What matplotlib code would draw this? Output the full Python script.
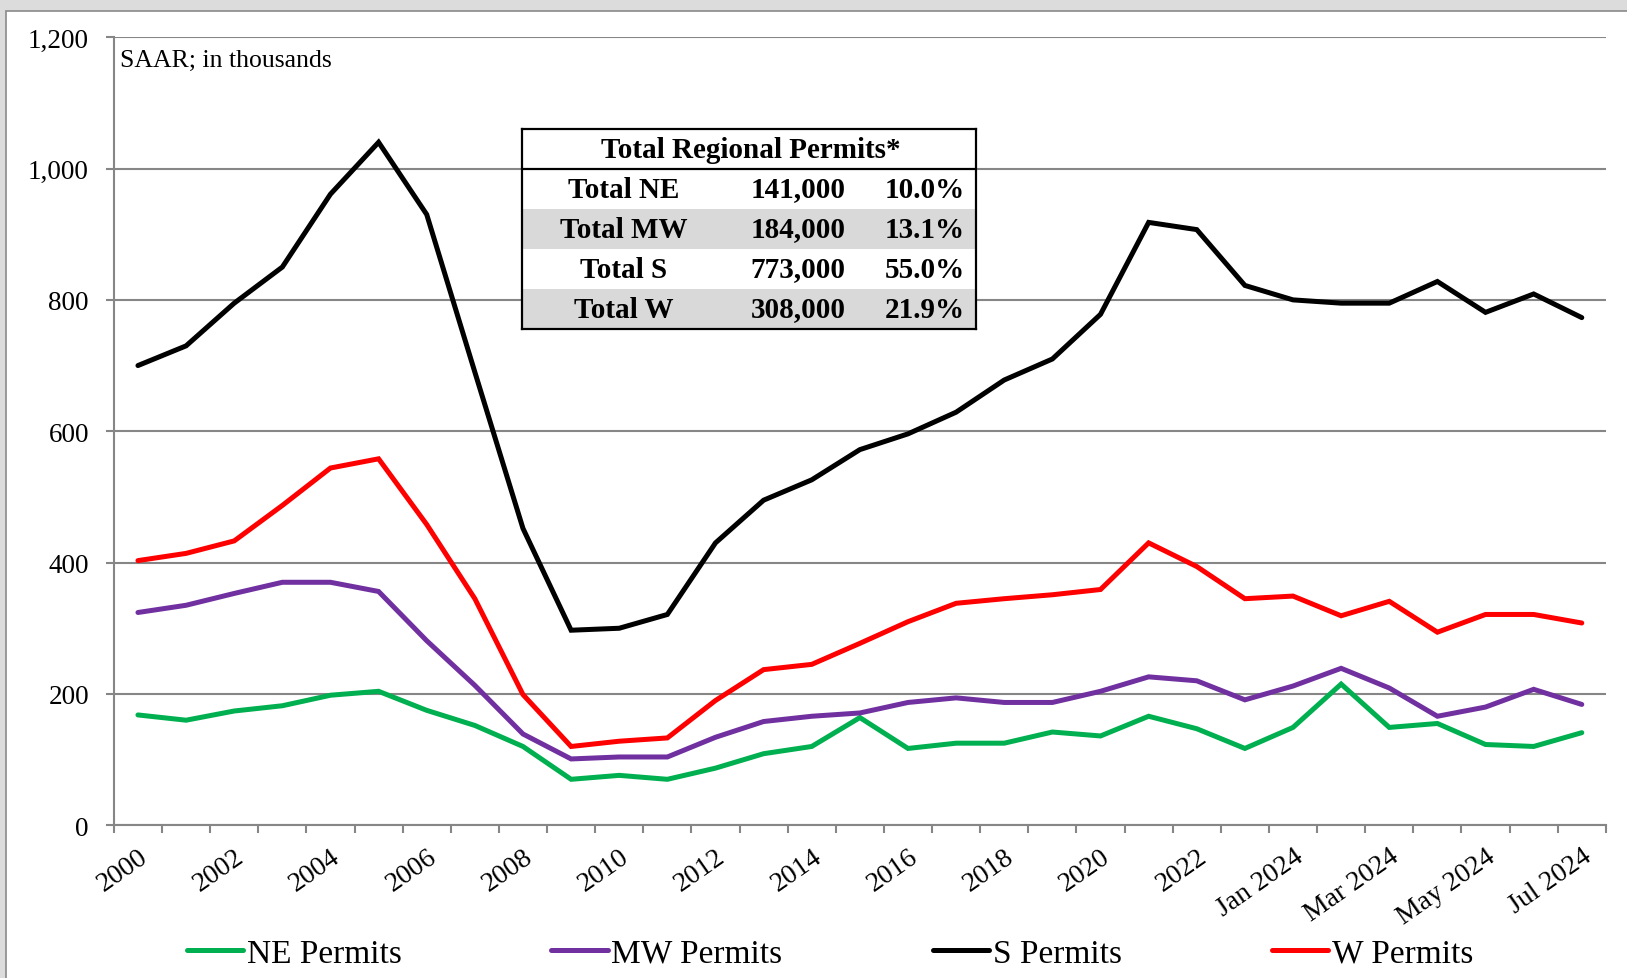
import matplotlib
matplotlib.use('Agg')
import matplotlib.pyplot as plt
from matplotlib.patches import Rectangle
from matplotlib.ticker import FuncFormatter

plt.rcParams['font.family'] = ['Liberation Serif', 'DejaVu Serif']

# categories: annual 2000-2023, then monthly Jan-Jul 2024
periods = [str(y) for y in range(2000, 2024)] + ['Jan 2024', 'Feb 2024', 'Mar 2024', 'Apr 2024',
                                                   'May 2024', 'Jun 2024', 'Jul 2024']

# permits by region, SAAR in thousands
ne_permits = [168, 160, 174, 182, 198, 204, 175, 152, 120, 70, 76, 70, 87, 109, 120, 164,
              117, 125, 125, 142, 136, 166, 147, 117, 149, 215, 149, 155, 123, 120, 141]
mw_permits = [324, 335, 353, 370, 370, 356, 281, 213, 139, 101, 104, 104, 134, 158, 166, 171,
              187, 194, 187, 187, 204, 226, 220, 191, 212, 239, 209, 166, 180, 207, 184]
s_permits = [700, 730, 795, 850, 961, 1040, 930, 690, 452, 297, 300, 321, 430, 495, 526, 572,
             596, 629, 678, 710, 778, 918, 907, 822, 800, 795, 795, 828, 781, 809, 773]
w_permits = [403, 414, 433, 487, 544, 558, 458, 345, 199, 120, 128, 133, 190, 237, 245, 277,
             310, 338, 345, 351, 359, 430, 394, 345, 349, 319, 341, 294, 321, 321, 308]

series_names = ['NE Permits', 'MW Permits', 'S Permits', 'W Permits']
series_colors = ['#00b050', '#7030a0', '#000000', '#ff0000']

# summary table
table_title = 'Total Regional Permits*'
table_regions = ['Total NE', 'Total MW', 'Total S', 'Total W']
table_totals = ['141,000', '184,000', '773,000', '308,000']
table_shares = ['10.0%', '13.1%', '55.0%', '21.9%']

fig = plt.figure(figsize=(16.27, 9.79), dpi=100, facecolor='#dcdcdc')
# white chart area with thin border
fig.patches.append(Rectangle((0.0038, -0.01), 1.0, 0.9975, transform=fig.transFigure,
                             facecolor='white', edgecolor='#8a8a8a', lw=1.2, zorder=-1))

ax = fig.add_axes([0.070, 0.156, 0.917, 0.805])
ax.set_facecolor('none')

x = list(range(len(periods)))
for vals, name, color in zip([ne_permits, mw_permits, s_permits, w_permits], series_names, series_colors):
    ax.plot(x, vals, color=color, lw=3.6, label=name, solid_capstyle='round',
            solid_joinstyle='miter', zorder=3)

ax.set_xlim(-0.5, len(periods) - 0.5)
ax.set_ylim(0, 1200)
ax.set_yticks(range(0, 1201, 200))
ax.yaxis.set_major_formatter(FuncFormatter(lambda v, p: f'{int(v):,}'))
ax.grid(axis='y', color='#868686', lw=1.5, zorder=0)
ax.set_axisbelow(True)

for side in ['top', 'right']:
    ax.spines[side].set_visible(False)
for side in ['left', 'bottom']:
    ax.spines[side].set_color('#868686')
    ax.spines[side].set_linewidth(1.5)

ax.tick_params(axis='y', colors='#868686', labelcolor='black', length=6, width=1.5,
               labelsize=19.5, pad=12)

# labels on every other category, tick marks between categories
ax.set_xticks(x[::2])
ax.set_xticklabels(periods[::2], rotation=35, ha='right', va='top', rotation_mode='anchor')
ax.set_xticks([i - 0.5 for i in range(len(periods) + 1)], minor=True)
ax.tick_params(axis='x', which='major', length=0, labelsize=20, pad=13)
ax.tick_params(axis='x', which='minor', length=6, width=1.5, color='#868686')

ax.text(0.004, 0.985, 'SAAR; in thousands', transform=ax.transAxes, ha='left', va='top',
        fontsize=18.5)

fig.legend(loc='center', bbox_to_anchor=(0.51, 0.025), ncol=4, frameon=False, fontsize=24,
           handlelength=1.7, handletextpad=0.1, columnspacing=4.5)

# summary table drawn over the lines
tab = fig.add_axes([0.3208, 0.6629, 0.279, 0.2043])
tab.set_xlim(0, 1)
tab.set_ylim(0, 5)
tab.set_xticks([])
tab.set_yticks([])
tab.set_facecolor('white')
for s in tab.spines.values():
    s.set_color('black')
    s.set_linewidth(1.6)
for i in range(len(table_regions)):
    row_y = 3 - i
    if i % 2 == 1:
        tab.add_patch(Rectangle((0, row_y), 1, 1, facecolor='#d9d9d9', edgecolor='none'))
    tab.text(0.224, row_y + 0.5, table_regions[i], ha='center', va='center', fontsize=21,
             fontweight='bold')
    tab.text(0.713, row_y + 0.5, table_totals[i], ha='right', va='center', fontsize=21,
             fontweight='bold')
    tab.text(0.976, row_y + 0.5, table_shares[i], ha='right', va='center', fontsize=21,
             fontweight='bold')
tab.text(0.504, 4.5, table_title, ha='center', va='center', fontsize=21, fontweight='bold')
tab.axhline(4, color='black', lw=1.6)

fig.savefig('out.png', dpi=100, facecolor=fig.get_facecolor())
